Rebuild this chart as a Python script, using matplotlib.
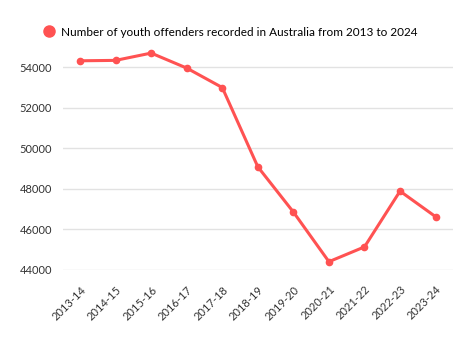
import matplotlib.pyplot as plt
from matplotlib.lines import Line2D

years = ["2013-14", "2014-15", "2015-16", "2016-17", "2017-18", "2018-19",
         "2019-20", "2020-21", "2021-22", "2022-23", "2023-24"]
offenders = [54320, 54340, 54700, 53960, 53000, 49090,
             46860, 44410, 45140, 47890, 46630]

color = "#ff5252"
label = "Number of youth offenders recorded in Australia from 2013 to 2024"

plt.rcParams["font.family"] = ["Lato", "DejaVu Sans"]

fig = plt.figure(figsize=(4.72, 3.52), dpi=100)
ax = fig.add_axes([63 / 472, 1 - 270 / 352, 390 / 472, 223 / 352])

x = list(range(len(years)))
ax.plot(x, offenders, color=color, linewidth=2.2, marker="o", markersize=4.5)

ax.set_xlim(-0.48, 10.49)
ax.set_ylim(44000, 55000)
ax.set_yticks([44000, 46000, 48000, 50000, 52000, 54000])
ax.set_xticks(x)
ax.set_xticklabels(years, rotation=45, ha="right", rotation_mode="anchor")
ax.tick_params(length=0, labelsize=8, colors="#333333", pad=8)
ax.tick_params(axis="x", pad=10)
ax.grid(axis="y", color="#e2e2e2", linewidth=1)
ax.set_axisbelow(True)
for s in ax.spines.values():
    s.set_visible(False)

handle = Line2D([], [], color=color, marker="o", linestyle="none", markersize=8)
fig.legend([handle], [label], loc="center", bbox_to_anchor=(230 / 472, 1 - 32 / 352),
           frameon=False, fontsize=8.5, handletextpad=0.4, handlelength=1.2,
           borderpad=0)

fig.savefig("out.png", dpi=100)
